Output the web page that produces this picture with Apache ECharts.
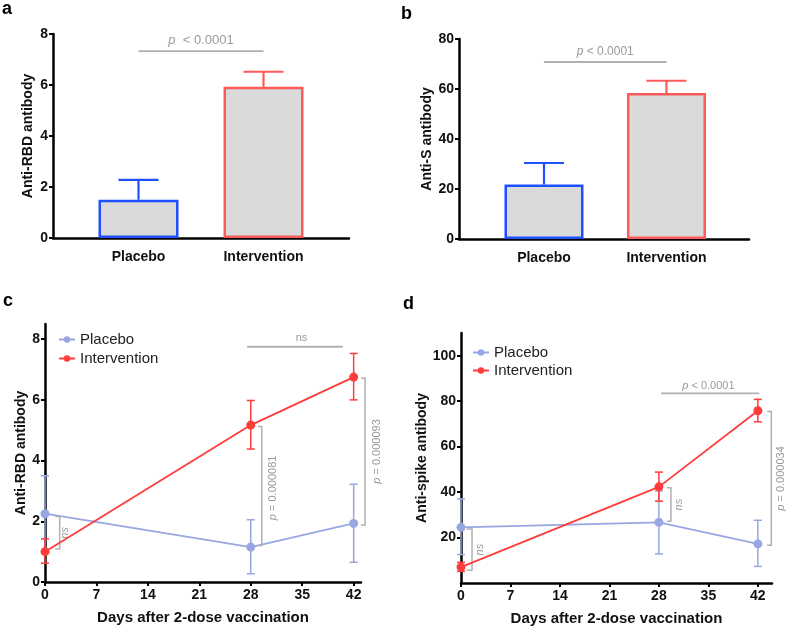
<!DOCTYPE html>
<html><head><meta charset="utf-8">
<script src="https://cdn.jsdelivr.net/npm/echarts@6/dist/echarts.min.js"></script>
<style>html,body{margin:0;padding:0;background:#fff}#c{width:787px;height:627px}</style>
</head><body><div id="c"></div>
<script>
// ---------- data ----------
const barCategories = ['Placebo', 'Intervention'];
const rbdMean = [1.5, 5.93];
const rbdUpper = [2.28, 6.52];
const sMean = [21.8, 58.4];
const sUpper = [30.4, 63.3];

const days = [0, 28, 42];
const dayTicks = [0, 7, 14, 21, 28, 35, 42];
const rbdPlacebo = [2.25, 1.15, 1.93];
const rbdPlaceboLo = [1.0, 0.27, 0.65];
const rbdPlaceboHi = [3.5, 2.05, 3.22];
const rbdInterv = [1.0, 5.17, 6.75];
const rbdIntervLo = [0.62, 4.38, 6.0];
const rbdIntervHi = [1.42, 5.98, 7.53];
const spikePlacebo = [24.5, 26.7, 17.2];
const spikePlaceboLo = [12.5, 12.8, 7.3];
const spikePlaceboHi = [37.0, 40.5, 27.6];
const spikeInterv = [7.0, 42.3, 75.8];
const spikeIntervLo = [5.1, 36.0, 70.9];
const spikeIntervHi = [9.1, 48.8, 80.8];

// annotations (data coordinates)
const sigA = {x1: 1, x2: 2, y: 7.33, tx: 1.5, ty: 7.76, text: '{i|p}  < 0.0001'};
const sigB = {x1: 1, x2: 2, y: 70.8, tx: 1.5, ty: 74.8, text: '{i|p} < 0.0001'};
const topC = {x1: 27.5, x2: 40.5, y: 7.75, tx: 34.9, ty: 8.05, text: 'ns'};
const topD = {x1: 28.3, x2: 42.2, y: 83.4, tx: 35.0, ty: 86.6, text: '{i|p} < 0.0001'};
// brackets: [xVertical, yTop, yBottom, xTickEnd, textX, textY]
const bracketsC = [[2.0, 2.16, 1.09, 1.4, 2.75, 1.62], [29.5, 5.12, 1.2, 28.95, 31.0, 3.1], [43.55, 6.71, 1.88, 43.0, 45.2, 4.3]];
const bracketTextC = ['{i|ns}', '{i|p} = 0.000081', '{i|p} = 0.000093'];
const bracketsD = [[1.56, 23.8, 5.6, 0.8, 2.7, 14.7], [29.7, 41.9, 27.2, 29.15, 30.85, 34.5], [43.9, 75.5, 16.6, 43.3, 45.25, 46.0]];
const bracketTextD = ['{i|ns}', '{i|ns}', '{i|p} = 0.000034'];

// ---------- style ----------
const FONT = '"Liberation Sans", Arial, Helvetica, sans-serif';
const BLUE = '#1f4fff', RED_B = '#ff5a5a', FILL = '#dadada';
const LAV = '#98a6e2', RED = '#ff3b3b', GRAY = '#b0b0b0', GTXT = '#9a9a9a';

const chart = echarts.init(document.getElementById('c'), null, {renderer: 'canvas'});

function axisBase(extra) {
  return Object.assign({
    axisLine: {show: true, lineStyle: {color: '#000', width: 2.5}},
    splitLine: {show: false},
    axisTick: {show: true, length: 4, lineStyle: {color: '#000', width: 2}},
    axisLabel: {color: '#111', fontFamily: FONT, fontWeight: 'bold', fontSize: 14, margin: 5},
    nameTextStyle: {color: '#111', fontFamily: FONT, fontWeight: 'bold', fontSize: 14}
  }, extra);
}

function barErr(color, gi) {
  return {
    type: 'custom', xAxisIndex: gi, yAxisIndex: gi, z: 3,
    renderItem: (p, api) => {
      const a = api.coord([api.value(0), api.value(1)]);
      const b = api.coord([api.value(0), api.value(2)]);
      return {type: 'group', children: [
        {type: 'line', shape: {x1: a[0], y1: a[1], x2: b[0], y2: b[1]}, style: {stroke: color[p.dataIndex], lineWidth: 2.2}},
        {type: 'line', shape: {x1: b[0] - 20, y1: b[1], x2: b[0] + 20, y2: b[1]}, style: {stroke: color[p.dataIndex], lineWidth: 2.2}}
      ]};
    },
    data: [[1, 0, 0], [2, 0, 0]]
  };
}

function lineErr(color, gi, lo, hi, z) {
  return {
    type: 'custom', xAxisIndex: gi, yAxisIndex: gi, z: z, silent: true,
    renderItem: (p, api) => {
      const a = api.coord([api.value(0), api.value(1)]);
      const b = api.coord([api.value(0), api.value(2)]);
      const s = {stroke: color, lineWidth: 1.5};
      return {type: 'group', children: [
        {type: 'line', shape: {x1: a[0], y1: a[1], x2: b[0], y2: b[1]}, style: s},
        {type: 'line', shape: {x1: a[0] - 4, y1: a[1], x2: a[0] + 4, y2: a[1]}, style: s},
        {type: 'line', shape: {x1: b[0] - 4, y1: b[1], x2: b[0] + 4, y2: b[1]}, style: s}
      ]};
    },
    data: days.map((d, i) => [d, lo[i], hi[i]])
  };
}

function sigLine(gi, s, fs) {
  return {
    type: 'custom', xAxisIndex: gi, yAxisIndex: gi, z: 4, silent: true,
    renderItem: (p, api) => {
      const a = api.coord([s.x1, s.y]);
      const b = api.coord([s.x2, s.y]);
      const t = api.coord([s.tx, s.ty]);
      return {type: 'group', children: [
        {type: 'line', shape: {x1: a[0], y1: a[1], x2: b[0], y2: b[1]}, style: {stroke: GRAY, lineWidth: 1.8}},
        {type: 'text', x: t[0], y: t[1], style: {text: s.text, fill: GTXT, font: fs + 'px ' + FONT, align: 'center', verticalAlign: 'middle',
          rich: {i: {fontStyle: 'italic', fill: GTXT, fontSize: fs, fontFamily: FONT}}}}
      ]};
    },
    data: [[s.x1, s.y]]
  };
}

function brackets(gi, list, texts, fs) {
  return {
    type: 'custom', xAxisIndex: gi, yAxisIndex: gi, z: 4, silent: true,
    renderItem: (p, api) => {
      const b = list[p.dataIndex];
      const t1 = api.coord([b[3], b[1]]), v1 = api.coord([b[0], b[1]]);
      const v2 = api.coord([b[0], b[2]]), t2 = api.coord([b[3], b[2]]);
      const tp = api.coord([b[4], b[5]]);
      return {type: 'group', children: [
        {type: 'polyline', shape: {points: [t1, v1, v2, t2]}, style: {stroke: GRAY, lineWidth: 1.5, fill: null}},
        {type: 'text', x: tp[0], y: tp[1], rotation: Math.PI / 2,
          style: {text: texts[p.dataIndex], fill: GTXT, font: fs + 'px ' + FONT, align: 'center', verticalAlign: 'middle',
            rich: {i: {fontStyle: 'italic', fill: GTXT, fontSize: fs, fontFamily: FONT}}}}
      ]};
    },
    data: list.map(b => [b[0], b[1]])
  };
}

const catLabel = {
  customValues: [1, 2], margin: 12, fontSize: 14,
  formatter: v => barCategories[Math.round(v) - 1] || ''
};

const option = {
  animation: false,
  textStyle: {fontFamily: FONT},
  grid: [
    {left: 53, top: 34, width: 296, height: 204},
    {left: 459, top: 39, width: 290, height: 200},
    {left: 45, top: 324, width: 316, height: 258},
    {left: 461, top: 333, width: 311, height: 250}
  ],
  xAxis: [
    axisBase({type: 'value', gridIndex: 0, min: 0.316, max: 2.684, axisTick: {show: false},
      axisLabel: Object.assign({}, axisBase().axisLabel, catLabel)}),
    axisBase({type: 'value', gridIndex: 1, min: 0.306, max: 2.674, axisTick: {show: false},
      axisLabel: Object.assign({}, axisBase().axisLabel, catLabel)}),
    axisBase({type: 'value', gridIndex: 2, min: 0, max: 43,
      axisTick: {show: true, length: 4, customValues: dayTicks, lineStyle: {color: '#000', width: 2}},
      axisLabel: Object.assign({}, axisBase().axisLabel, {customValues: dayTicks, margin: 6}),
      name: 'Days after 2-dose vaccination', nameLocation: 'middle', nameGap: 28,
      nameTextStyle: {color: '#111', fontFamily: FONT, fontWeight: 'bold', fontSize: 15}}),
    axisBase({type: 'value', gridIndex: 3, min: 0, max: 44,
      axisTick: {show: true, length: 4, customValues: dayTicks, lineStyle: {color: '#000', width: 2}},
      axisLabel: Object.assign({}, axisBase().axisLabel, {customValues: dayTicks, margin: 6}),
      name: 'Days after 2-dose vaccination', nameLocation: 'middle', nameGap: 28,
      nameTextStyle: {color: '#111', fontFamily: FONT, fontWeight: 'bold', fontSize: 15}})
  ],
  yAxis: [
    axisBase({type: 'value', gridIndex: 0, min: 0, max: 8, interval: 2,
      name: 'Anti-RBD antibody', nameLocation: 'middle', nameGap: 18}),
    axisBase({type: 'value', gridIndex: 1, min: 0, max: 80, interval: 20,
      name: 'Anti-S antibody', nameLocation: 'middle', nameGap: 25}),
    axisBase({type: 'value', gridIndex: 2, min: 0, max: 8.5,
      axisTick: {show: true, length: 4, customValues: [0, 2, 4, 6, 8], lineStyle: {color: '#000', width: 2}},
      axisLabel: Object.assign({}, axisBase().axisLabel, {customValues: [0, 2, 4, 6, 8]}),
      name: 'Anti-RBD antibody', nameLocation: 'middle', nameGap: 17}),
    axisBase({type: 'value', gridIndex: 3, min: 0, max: 110,
      axisTick: {show: true, length: 4, customValues: [20, 40, 60, 80, 100], lineStyle: {color: '#000', width: 2}},
      axisLabel: Object.assign({}, axisBase().axisLabel, {customValues: [20, 40, 60, 80, 100]}),
      name: 'Anti-spike antibody', nameLocation: 'middle', nameGap: 24})
  ],
  legend: [
    {left: 53, top: 327, orient: 'vertical', itemWidth: 16, itemHeight: 8, itemGap: 4,
      textStyle: {fontFamily: FONT, fontSize: 15, color: '#222'},
      data: ['Placebo', 'Intervention']},
    {left: 467, top: 340, orient: 'vertical', itemWidth: 16, itemHeight: 8, itemGap: 3,
      textStyle: {fontFamily: FONT, fontSize: 15, color: '#222'},
      data: ['Placebo ', 'Intervention ']}
  ],
  graphic: [
    {type: 'text', left: 2, top: 0, style: {text: 'a', font: 'bold 18px ' + FONT, fill: '#000'}},
    {type: 'text', left: 401, top: 5, style: {text: 'b', font: 'bold 18px ' + FONT, fill: '#000'}},
    {type: 'text', left: 3, top: 292, style: {text: 'c', font: 'bold 18px ' + FONT, fill: '#000'}},
    {type: 'text', left: 403, top: 295, style: {text: 'd', font: 'bold 18px ' + FONT, fill: '#000'}}
  ],
  series: [
    // panel a
    {type: 'bar', xAxisIndex: 0, yAxisIndex: 0, barWidth: 80, z: 2,
      data: rbdMean.map((v, i) => ({value: [i + 1, v], itemStyle: {color: FILL, borderColor: i ? RED_B : BLUE, borderWidth: 2.5}}))},
    Object.assign(barErr([BLUE, RED_B], 0), {data: rbdMean.map((v, i) => [i + 1, v, rbdUpper[i]])}),
    sigLine(0, sigA, 13),
    // panel b
    {type: 'bar', xAxisIndex: 1, yAxisIndex: 1, barWidth: 79, z: 2,
      data: sMean.map((v, i) => ({value: [i + 1, v], itemStyle: {color: FILL, borderColor: i ? RED_B : BLUE, borderWidth: 2.5}}))},
    Object.assign(barErr([BLUE, RED_B], 1), {data: sMean.map((v, i) => [i + 1, v, sUpper[i]])}),
    sigLine(1, sigB, 12),
    // panel c
    lineErr(LAV, 2, rbdPlaceboLo, rbdPlaceboHi, 2),
    {type: 'line', name: 'Placebo', xAxisIndex: 2, yAxisIndex: 2, z: 3, symbol: 'circle', symbolSize: 9,
      color: LAV, lineStyle: {width: 1.8, color: LAV}, itemStyle: {color: LAV},
      data: days.map((d, i) => [d, rbdPlacebo[i]])},
    lineErr(RED, 2, rbdIntervLo, rbdIntervHi, 4),
    {type: 'line', name: 'Intervention', xAxisIndex: 2, yAxisIndex: 2, z: 5, symbol: 'circle', symbolSize: 9,
      color: RED, lineStyle: {width: 1.8, color: RED}, itemStyle: {color: RED},
      data: days.map((d, i) => [d, rbdInterv[i]])},
    sigLine(2, topC, 11),
    brackets(2, bracketsC, bracketTextC, 11),
    // panel d
    lineErr(LAV, 3, spikePlaceboLo, spikePlaceboHi, 2),
    {type: 'line', name: 'Placebo ', xAxisIndex: 3, yAxisIndex: 3, z: 3, symbol: 'circle', symbolSize: 9,
      color: LAV, lineStyle: {width: 1.8, color: LAV}, itemStyle: {color: LAV},
      data: days.map((d, i) => [d, spikePlacebo[i]])},
    lineErr(RED, 3, spikeIntervLo, spikeIntervHi, 4),
    {type: 'line', name: 'Intervention ', xAxisIndex: 3, yAxisIndex: 3, z: 5, symbol: 'circle', symbolSize: 9,
      color: RED, lineStyle: {width: 1.8, color: RED}, itemStyle: {color: RED},
      data: days.map((d, i) => [d, spikeInterv[i]])},
    sigLine(3, topD, 11),
    brackets(3, bracketsD, bracketTextD, 11)
  ]
};
chart.setOption(option);
</script>
</body></html>
